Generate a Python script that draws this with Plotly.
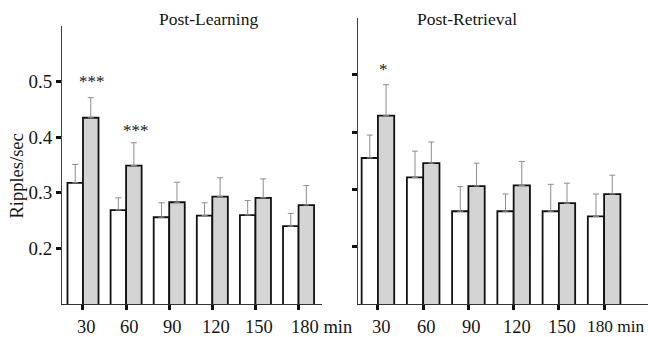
import plotly.graph_objects as go

categories = ["30", "60", "90", "120", "150", "180"]
tick_labels = ["30", "60", "90", "120", "150", "180 min"]

learn_ctrl = [0.318, 0.269, 0.256, 0.259, 0.260, 0.240]
learn_ctrl_sem = [0.033, 0.022, 0.026, 0.023, 0.026, 0.023]
learn_exp = [0.435, 0.349, 0.283, 0.293, 0.291, 0.278]
learn_exp_sem = [0.036, 0.041, 0.036, 0.034, 0.034, 0.035]

retr_ctrl = [0.355, 0.321, 0.262, 0.262, 0.262, 0.253]
retr_ctrl_sem = [0.040, 0.046, 0.043, 0.030, 0.047, 0.039]
retr_exp = [0.429, 0.346, 0.306, 0.307, 0.276, 0.292]
retr_exp_sem = [0.054, 0.037, 0.040, 0.042, 0.035, 0.033]

y_ticks = [0.2, 0.3, 0.4, 0.5]
y_tick_text = ["0.2", "0.3", "0.4", "0.5"]

# significance marks: (category index, label, y value)
learn_sig = [(0, "***", 0.505), (1, "***", 0.417)]
retr_sig = [(0, "*", 0.513)]

FONT = "Liberation Serif, Times New Roman, serif"
TXT = "#151515"
GRAY = "#d4d4d4"
ERR = "#8c8c8c"

W, H = 648, 337

fig = go.Figure()


def add_bars(vals, sems, color, xa, ya):
    fig.add_trace(go.Bar(
        x=categories, y=vals, xaxis=xa, yaxis=ya,
        marker=dict(color=color, line=dict(color="#111111", width=1.8)),
        error_y=dict(type="data", symmetric=False, array=sems,
                     arrayminus=[0] * len(sems), color=ERR,
                     thickness=1, width=3),
        base=0, showlegend=False, offsetgroup=color + xa,
    ))


add_bars(learn_ctrl, learn_ctrl_sem, "white", "x", "y")
add_bars(learn_exp, learn_exp_sem, GRAY, "x", "y")
add_bars(retr_ctrl, retr_ctrl_sem, "white", "x2", "y2")
add_bars(retr_exp, retr_exp_sem, GRAY, "x2", "y2")

xcommon = dict(type="category", showline=True, linecolor="#333333", linewidth=1,
               ticks="outside", ticklen=5, tickwidth=2.5, tickcolor="#111111",
               showgrid=False, zeroline=False, showticklabels=False,
               tickvals=categories)
ycommon = dict(range=[0.1, 0.6], showline=True, linecolor="#444444", linewidth=1,
               ticks="outside", ticklen=5, tickwidth=2.5, tickcolor="#111111",
               showgrid=False, zeroline=False, tickvals=y_ticks,
               ticktext=y_tick_text,
               tickfont=dict(family=FONT, size=19, color=TXT))

fig.update_layout(
    width=W, height=H,
    margin=dict(l=0, r=0, t=0, b=0),
    paper_bgcolor="white", plot_bgcolor="white",
    barmode="group", bargroupgap=0, bargap=0.28,
    xaxis=dict(xcommon, domain=[62 / W, 322 / W], range=[-0.487, 5.544], anchor="y"),
    yaxis=dict(ycommon, domain=[1 - 304 / H, 1 - 26 / H], anchor="x"),
    xaxis2=dict(xcommon, domain=[358.3 / W, 1.0], range=[-0.434, 5.97], anchor="y2"),
    yaxis2=dict(ycommon, domain=[1 - 304 / H, 1 - 17.7 / H], anchor="x2",
                showticklabels=False),
    showlegend=False,
)


def ptext(text, px, py, size=18, angle=0, xanchor="center"):
    return dict(text=text, x=px / W, y=1 - py / H, xref="paper", yref="paper",
                xanchor=xanchor, yanchor="middle", textangle=angle,
                font=dict(family=FONT, size=size, color=TXT), showarrow=False)


annos = [
    ptext("Post-Learning", 208, 19, 17.5),
    ptext("Post-Retrieval", 466.7, 19, 17.5),
    ptext("Ripples/sec", 16, 176.5, 18.5, angle=-90),
]

# x tick labels (category axis positions, shifted slightly like the original)
LABEL_Y = 1 - 326.5 / H
for xref, last_shift, last_size in (("x", -8.5, 18.5), ("x2", -18.5, 17.3)):
    for i, lab in enumerate(tick_labels):
        last = i == len(tick_labels) - 1
        annos.append(dict(text=lab, x=i, y=LABEL_Y, xref=xref, yref="paper",
                          xanchor="left" if last else "center", yanchor="middle",
                          xshift=last_shift if last else 3.5, borderpad=0,
                          font=dict(family=FONT, size=last_size if last else 18.5,
                                    color=TXT),
                          showarrow=False))

for idx, lab, yv in learn_sig:
    annos.append(dict(text=lab, x=idx, y=yv, xref="x", yref="y", xshift=9.5,
                      yshift=-3, xanchor="center", yanchor="middle",
                      font=dict(family=FONT, size=17, color=TXT), showarrow=False))
for idx, lab, yv in retr_sig:
    annos.append(dict(text=lab, x=idx, y=yv, xref="x2", yref="y2", xshift=6,
                      yshift=-2, xanchor="center", yanchor="middle",
                      font=dict(family=FONT, size=17, color=TXT), showarrow=False))
fig.update_layout(annotations=annos)

fig.write_html("out.html")
